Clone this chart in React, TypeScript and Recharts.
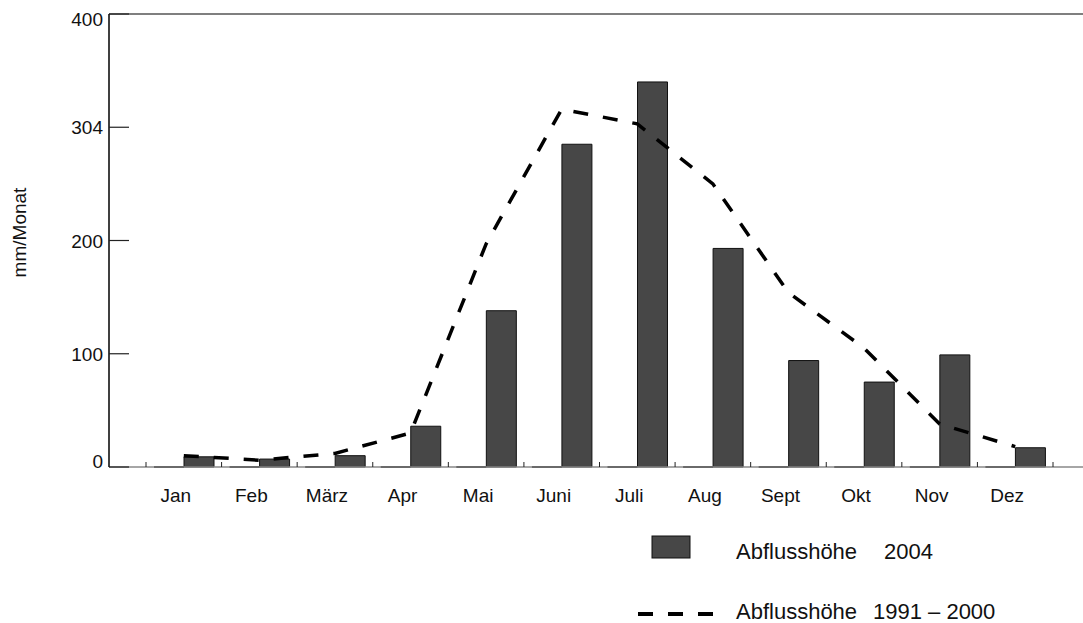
import { ComposedChart, Bar, Line, XAxis, YAxis, ReferenceLine } from "recharts"

// Monthly runoff depth (mm/Monat)
const months = ["Jan", "Feb", "März", "Apr", "Mai", "Juni", "Juli", "Aug", "Sept", "Okt", "Nov", "Dez"]
const leer = [0, 0, 0, 0, 0, 0, 0, 0, 0, 0, 0, 0] // empty first bar of each pair
const abfluss2004 = [9, 7, 10, 36, 138, 285, 340, 193, 94, 75, 99, 17]
const abflussMittel = [10, 6, 12, 30, 197, 316, 303, 250, 154, 105, 38, 18]

const yTicks = [0, 100, 200, 300, 400]
const yTickLabels = ["0", "100", "200", "304", "400"]

const legendLabel = "Abflusshöhe"
const legendYears = ["2004", "1991 – 2000"]

const font = '"Liberation Sans", Arial, Helvetica, sans-serif'
const barFill = "#474747"

const data = months.map((m, i) => ({
  month: m,
  leer: leer[i],
  abfluss2004: abfluss2004[i],
  mittel: abflussMittel[i],
}))

// y ticks point inward; label sits left of the axis
const ValueTick = (props: any) => {
  const { x, y, payload } = props
  const ax = x + 6 // tickSize 0 + tickMargin 6
  const idx = yTicks.indexOf(payload.value)
  let dy = 7
  if (payload.value === 400) dy = 12
  if (payload.value === 0) dy = 1
  return (
    <g>
      <line x1={ax} x2={ax + 20} y1={y} y2={y} stroke="#222" strokeWidth={1.2} />
      <text x={x} y={y + dy} textAnchor="end" fontSize={19} fill="#111" fontFamily={font}>
        {yTickLabels[idx]}
      </text>
    </g>
  )
}

// x ticks sit on the band boundaries, labels slightly left of the band centre
const MonthTick = (props: any) => {
  const { x, y, payload, index } = props
  const half = payload.offset || 37.8
  const last = index === months.length - 1 || payload.value === months[months.length - 1]
  return (
    <g>
      <line x1={x - half} x2={x - half} y1={y} y2={y - 5} stroke="#222" strokeWidth={1} />
      {last && <line x1={x + half} x2={x + half} y1={y} y2={y - 5} stroke="#222" strokeWidth={1} />}
      <text x={x - 8} y={y + 35} textAnchor="middle" fontSize={19} fill="#111" fontFamily={font}>
        {payload.value}
      </text>
    </g>
  )
}

const ZeroBar = (props: any) => {
  const { x, y, width, height } = props
  const yb = y + (height || 0)
  return <line x1={x} x2={x + width} y1={yb} y2={yb} stroke="#111" strokeWidth={2} />
}

const AxisLabel = (props: any) => {
  const vb = props.viewBox || { x: 0, y: 14, width: 109, height: 453 }
  const cx = 19
  const cy = vb.y + vb.height / 2 - 8
  return (
    <text
      x={cx}
      y={cy}
      transform={`rotate(-90 ${cx} ${cy})`}
      textAnchor="middle"
      dominantBaseline="central"
      fontSize={19}
      fill="#111"
      fontFamily={font}
    >
      mm/Monat
    </text>
  )
}

function ChartLegend() {
  return (
    <svg
      width={1083}
      height={623}
      style={{ position: "absolute", left: 0, top: 0, pointerEvents: "none" }}
      fontFamily={font}
    >
      <rect x={652} y={536} width={38} height={22} fill={barFill} stroke="#111" strokeWidth={1} />
      <text x={736} y={559} fontSize={22} fill="#111">{legendLabel}</text>
      <text x={884} y={559} fontSize={22} fill="#111">{legendYears[0]}</text>

      <line x1={638} x2={713} y1={614} y2={614} stroke="#000" strokeWidth={4} strokeDasharray="15 15" />
      <text x={736} y={619} fontSize={22} fill="#111">{legendLabel}</text>
      <text x={873} y={619} fontSize={22} fill="#111">{legendYears[1]}</text>
    </svg>
  )
}

export default function App() {
  return (
    <div
      style={{
        position: "absolute",
        left: 0,
        top: 0,
        width: 1083,
        height: 623,
        overflow: "hidden",
        background: "#fff",
        fontFamily: font,
      }}
    >
      <ComposedChart
        width={1100}
        height={623}
        data={data}
        margin={{ top: 14, right: 10, bottom: 116, left: 0 }}
        barGap={0}
      >
        <XAxis
          dataKey="month"
          padding={{ left: 37, right: 37 }}
          height={40}
          tickSize={0}
          tickMargin={0}
          tickLine={false}
          interval={0}
          axisLine={{ stroke: "#888", strokeWidth: 1.5 }}
          tick={<MonthTick />}
        />
        <YAxis
          domain={[0, 400]}
          ticks={yTicks}
          width={109}
          tickSize={0}
          tickMargin={6}
          tickLine={false}
          interval={0}
          axisLine={{ stroke: "#000", strokeWidth: 1.5 }}
          tick={<ValueTick />}
          label={<AxisLabel />}
        />
        <ReferenceLine y={400} stroke="#555" strokeWidth={1.5} />
        <Bar
          dataKey="leer"
          barSize={30}
          shape={<ZeroBar />}
          legendType="none"
          isAnimationActive={false}
        />
        <Bar
          dataKey="abfluss2004"
          name="Abflusshöhe 2004"
          barSize={30}
          fill={barFill}
          stroke="#111"
          strokeWidth={1}
          isAnimationActive={false}
        />
        <Line
          dataKey="mittel"
          name="Abflusshöhe 1991 – 2000"
          type="linear"
          stroke="#000"
          strokeWidth={3.5}
          strokeDasharray="15 15"
          dot={false}
          activeDot={false}
          isAnimationActive={false}
        />
      </ComposedChart>
      <ChartLegend />
    </div>
  )
}
